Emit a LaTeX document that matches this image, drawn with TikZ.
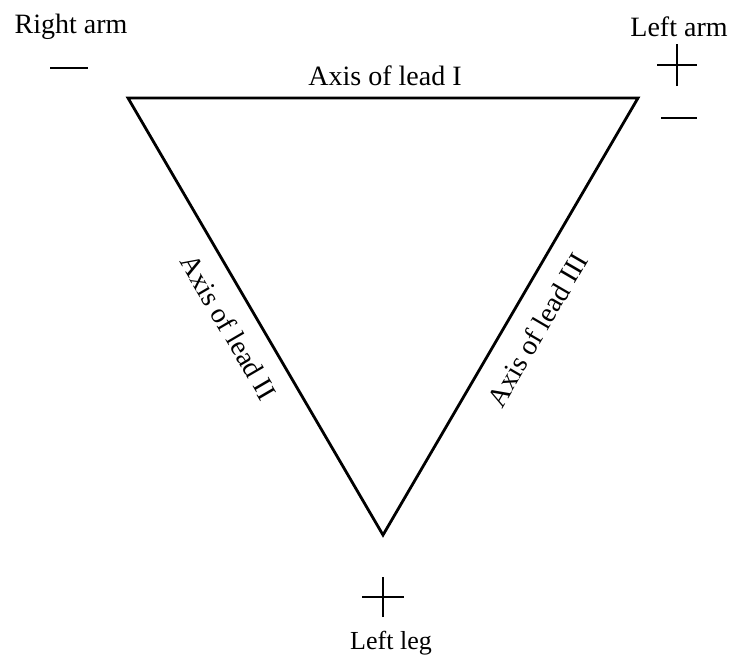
\documentclass[tikz,border=0pt]{standalone}
\usepackage{fontspec}
\setmainfont{Liberation Serif}
\begin{document}
\begin{tikzpicture}[x=1pt,y=-1pt,
  lbl/.style={font=\fontsize{28}{30}\selectfont, inner sep=0pt},
  edge/.style={line width=2.8pt, line join=miter},
  sign/.style={line width=2.2pt}]
\useasboundingbox (0,0) rectangle (734,656);
% vertices
\coordinate (RA) at (128,98);
\coordinate (LA) at (638,98);
\coordinate (LL) at (383,535);
\draw[edge] (RA) -- (LA) -- (LL) -- cycle;
% labels
\node[lbl] (ra) at (71,27) {Right arm};
\node[lbl] (la) at (679,27) {Left arm};
\node[lbl, font=\fontsize{26}{28}\selectfont] (ll) at (391,643) {Left leg};
\node[lbl] (l1) at (385,76) {Axis of lead I};
\node[lbl, rotate=-59.7] (l2) at (229,327) {Axis of lead II};
\node[lbl, rotate=59.7] (l3) at (537,330) {Axis of lead III};
% signs
\coordinate (raminus) at (69,68);
\draw[sign] ([xshift=-19pt]raminus) -- ([xshift=19pt]raminus);
\coordinate (laplus) at (677,65);
\draw[sign] ([xshift=-20pt]laplus) -- ([xshift=20pt]laplus);
\draw[sign] ([yshift=-21pt]laplus) -- ([yshift=21pt]laplus);
\coordinate (laminus) at (679,118);
\draw[sign] ([xshift=-18pt]laminus) -- ([xshift=18pt]laminus);
\coordinate (llplus) at (383,597);
\draw[sign] ([xshift=-21pt]llplus) -- ([xshift=21pt]llplus);
\draw[sign] ([yshift=-20pt]llplus) -- ([yshift=20pt]llplus);
\end{tikzpicture}
\end{document}
